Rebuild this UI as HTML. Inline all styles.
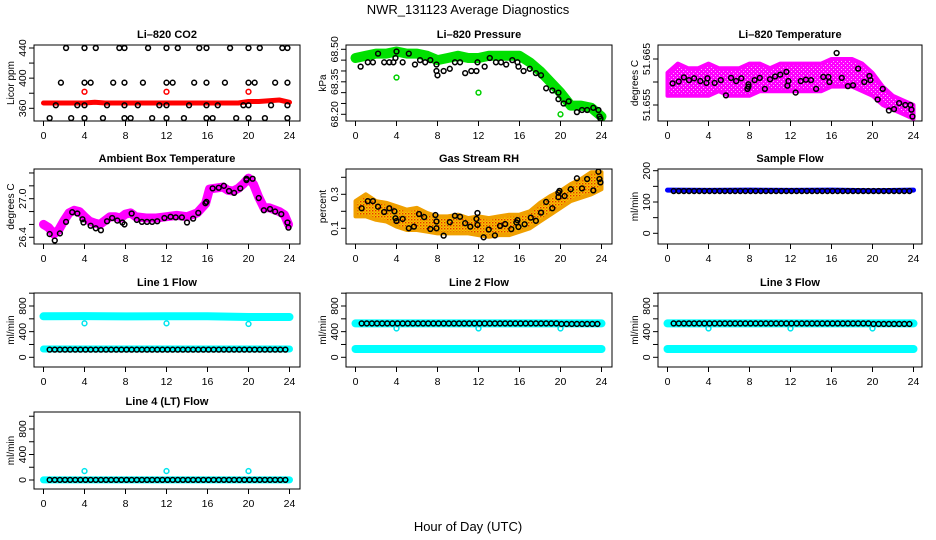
<!DOCTYPE html>
<html><head><meta charset="utf-8"><style>
html,body{margin:0;padding:0;background:#fff;}
svg{display:block;font-family:"Liberation Sans",Arial,sans-serif;}
</style></head><body>
<svg id="chart" width="936" height="540" viewBox="0 0 936 540" xmlns="http://www.w3.org/2000/svg">
<defs>
<pattern id="rhpat" width="3" height="3" patternUnits="userSpaceOnUse">
<rect width="3" height="3" fill="#f7c600"/><rect x="0" y="0" width="1.4" height="1.4" fill="#e83000"/><rect x="1.5" y="1.5" width="1.4" height="1.4" fill="#f09000"/>
</pattern>
<pattern id="magpat" width="4" height="4" patternUnits="userSpaceOnUse">
<rect width="4" height="4" fill="#ff00ff"/><rect x="1" y="1" width="1" height="1" fill="#ffb0ff"/><rect x="3" y="3" width="1" height="1" fill="#ffb0ff"/>
</pattern>
</defs>
<text x="468" y="14" text-anchor="middle" font-size="13">NWR_131123  Average Diagnostics</text>
<text x="468" y="531" text-anchor="middle" font-size="13">Hour of Day (UTC)</text>
</svg>
<script>
// ---------- data ----------
const REG = [0.6,1.1,1.6,2.1,2.6,3.1,3.6,4.1,4.6,5.1,5.6,6.1,6.6,7.1,7.6,8.1,8.6,9.1,9.6,10.1,10.6,11.1,11.6,12.1,12.6,13.1,13.6,14.1,14.6,15.1,15.6,16.1,16.6,17.1,17.6,18.1,18.6,19.1,19.6,20.1,20.6,21.1,21.6,22.1,22.6,23.1,23.6];
const HOURS = [0,1,2,3,4,5,6,7,8,9,10,11,12,13,14,15,16,17,18,19,20,21,22,23,24];
const OUT_X = [4,12,20];

// CO2
const CO2_HI_X = [2.2,4,5.1,7.4,7.9,10.2,12,13.1,15.2,15.9,18.2,20,21.1,23.3,23.8];
const CO2_HI = [440,440,440,440,440,440,440,440,440,440,440,440,440,440,440];
const CO2_M2_X = [1.7,4,4.6,6.8,7.9,9.7,12,12.6,14.7,15.9,17.7,20,20.6,22.6,23.8];
const CO2_M2 = [394,394,394,394,394,394,394,394,394,394,394,394,394,394,394];
const CO2_M1_X = [1.2,3.3,4,6.2,7.9,9.2,11.3,12,14.2,15.9,17,19.5,20,22.2,23.8];
const CO2_M1 = [364,364,364,364,364,364,364,364,364,364,364,364,364,364,364];
const CO2_LO_X = [0.6,2.7,4,5.8,7.9,8.5,10.6,12,13.7,15.9,16.5,18.8,20,21.6,23.8];
const CO2_LO = [347,347,347,347,347,347,347,347,347,347,347,347,347,347,347];
const CO2_RED = [367,367,367,367,367,368,367,367,367,367,367,367,367,367,367,367,367,367,367,367,369,369,370,371,368];
const CO2_RED_OUT = [382,382,382];

// Pressure
const P_GREEN = [68.46,68.47,68.48,68.48,68.49,68.48,68.48,68.47,68.45,68.46,68.47,68.46,68.46,68.47,68.47,68.47,68.47,68.44,68.40,68.35,68.30,68.24,68.24,68.23,68.19];
const P_GREEN_OUT = [68.37,68.30,68.20];
const P_BLK_X = [0.5,1.2,1.7,2.2,2.8,3.3,3.7,3.9,4.0,4.6,5.2,5.8,6.3,6.8,7.3,7.9,7.9,8.0,8.6,9.2,9.7,10.2,10.7,11.3,11.8,11.9,12.6,13.1,13.7,14.2,14.7,15.3,15.8,15.9,16.4,17,17.6,18.1,18.6,19.2,19.8,19.8,20.3,20.8,21.6,22.1,22.6,23.2,23.7,23.8,23.9];
const P_BLK = [68.42,68.44,68.44,68.48,68.44,68.44,68.44,68.46,68.49,68.44,68.48,68.43,68.45,68.44,68.45,68.43,68.40,68.38,68.40,68.41,68.44,68.44,68.39,68.40,68.40,68.44,68.42,68.46,68.44,68.44,68.43,68.45,68.44,68.42,68.40,68.41,68.39,68.38,68.32,68.31,68.30,68.27,68.25,68.26,68.21,68.22,68.22,68.23,68.22,68.19,68.18];

// Li-820 temperature
const T_UP = [51.662,51.664,51.663,51.663,51.664,51.663,51.663,51.663,51.664,51.664,51.663,51.664,51.664,51.664,51.664,51.664,51.665,51.665,51.665,51.664,51.662,51.659,51.657,51.656,51.655];
const T_LO = [51.657,51.657,51.657,51.657,51.657,51.658,51.657,51.657,51.657,51.658,51.658,51.658,51.658,51.658,51.658,51.658,51.659,51.659,51.659,51.658,51.657,51.655,51.654,51.653,51.652];
const T_BLK_X = [0.5,1.1,1.6,2.1,2.6,3.2,3.8,3.9,4.6,5.2,5.7,6.2,6.7,7.2,7.8,7.9,7.9,8.5,9,9.5,10,10.5,11,11.6,11.7,11.8,12.5,13,13.5,14,14.5,15.2,15.7,15.8,16.5,17,17.6,18.1,18.6,19.2,19.7,19.8,20.5,21,21.6,22.1,22.6,23.2,23.7,23.8,23.9];
const T_BLK = [51.6597,51.6601,51.6610,51.6604,51.6608,51.6602,51.6598,51.6608,51.6598,51.6604,51.6571,51.6609,51.6602,51.6608,51.6585,51.6590,51.6595,51.6604,51.6609,51.6585,51.6606,51.6612,51.6616,51.6622,51.6592,51.6602,51.6577,51.6602,51.6605,51.6604,51.6585,51.6611,51.6611,51.6600,51.6663,51.6609,51.6591,51.6593,51.6629,51.6600,51.6613,51.6604,51.6562,51.6585,51.6538,51.6541,51.6554,51.6550,51.6550,51.6540,51.6525];

// Ambient box temperature
const A_X = [0,0.5,1,1.5,2,2.5,3,3.5,4,4.5,5,5.5,6,6.5,7,7.5,8,8.5,9,10,11,12,13,14,15,15.8,16.2,17,17.5,18,18.5,19,19.5,20,20.5,21,21.5,22,23,23.5,23.9];
const A_MAG = [26.60,26.55,26.45,26.52,26.66,26.78,26.82,26.80,26.72,26.65,26.62,26.60,26.66,26.72,26.72,26.70,26.76,26.78,26.72,26.70,26.70,26.72,26.74,26.72,26.78,26.92,27.15,27.17,27.18,27.13,27.12,27.16,27.23,27.32,27.22,27.02,26.86,26.86,26.80,26.75,26.60];
const A_BLK_X = [0.6,1.1,1.6,2.2,2.8,3.3,3.8,3.9,4.6,5.1,5.6,6.2,6.7,7.2,7.7,7.9,8.6,9.1,9.6,10.1,10.6,11.1,11.8,12.4,12.9,13.5,14,14.6,15.1,15.8,15.9,16.5,17.1,17.6,18.1,18.6,19.2,19.8,19.8,20.4,21,21.5,22.1,22.6,23.2,23.8,23.9];
const A_BLK = [26.45,26.35,26.46,26.64,26.79,26.77,26.68,26.63,26.58,26.54,26.51,26.65,26.70,26.66,26.63,26.60,26.77,26.67,26.64,26.64,26.64,26.65,26.70,26.72,26.71,26.71,26.63,26.69,26.78,26.93,26.95,27.16,27.17,27.20,27.12,27.09,27.16,27.29,27.31,27.31,27.01,26.82,26.84,26.80,26.76,26.63,26.55];

// Gas stream RH
const RH_UP = [0.26,0.30,0.26,0.25,0.23,0.21,0.22,0.19,0.17,0.17,0.18,0.16,0.17,0.16,0.17,0.18,0.18,0.20,0.25,0.29,0.32,0.36,0.39,0.43,0.43];
const RH_LO = [0.17,0.17,0.15,0.14,0.11,0.09,0.09,0.08,0.07,0.07,0.07,0.07,0.06,0.05,0.06,0.06,0.08,0.10,0.14,0.18,0.22,0.26,0.28,0.30,0.33];
const RH_BLK_X = [0.6,1.2,1.7,2.2,2.8,3.3,3.8,3.9,4.0,4.6,5.2,5.7,6.2,6.7,7.3,7.8,7.9,7.9,8.6,9.2,9.7,10.2,10.7,11.2,11.8,11.9,11.9,12.5,13,13.6,14.1,14.6,15.2,15.7,15.8,15.9,16.5,17.1,17.6,18.1,18.6,19.2,19.8,19.8,19.9,20.4,21,21.6,22.1,22.6,23.2,23.7,23.8,23.9];
const RH_BLK = [0.218,0.26,0.26,0.227,0.196,0.218,0.20,0.159,0.143,0.155,0.10,0.11,0.184,0.166,0.096,0.178,0.14,0.10,0.057,0.136,0.174,0.168,0.13,0.11,0.155,0.19,0.12,0.047,0.093,0.058,0.114,0.125,0.095,0.134,0.148,0.108,0.124,0.163,0.144,0.192,0.255,0.218,0.283,0.31,0.32,0.29,0.33,0.394,0.335,0.39,0.323,0.433,0.39,0.37];

// Sample flow
const SF_X = [0,4,8,12,16,20,24];
const SF_BLUE = [138,137,138,137,138,136,138];
const SF_BLK = [135,135,135,135,135,135,135,135,135,135,135,135,135,135,135,135,135,135,135,135,135,135,135,135,135,135,135,135,135,135,135,135,135,135,135,135,135,135,135,135,135,135,135,135,135,135,135];

// Line flows
const FL_X = [0,4,8,12,16,20,24];
const L1_HI = [640,642,638,640,640,628,628];
const L1_LO = [130,130,130,130,130,130,130];
const L1_BLK = [120,120,120,120,120,120,120,120,120,120,120,120,120,120,120,120,120,120,120,120,120,120,120,120,120,120,120,120,120,120,120,120,120,120,120,120,120,120,120,120,120,120,120,120,120,120,120];
const L1_OUT = [530,530,520];
const L2_HI = [528,528,528,528,528,528,528];
const L2_LO = [130,130,130,130,130,130,130];
const L2_BLK = [528,528,528,528,528,528,528,528,528,528,528,528,528,528,528,528,528,528,528,528,528,528,528,528,528,528,528,528,528,528,528,528,528,528,528,528,528,528,528,520,520,520,520,520,520,520,520];
const L2_OUT = [450,450,450];
const L3_HI = [528,528,528,528,528,528,528];
const L3_LO = [130,130,130,130,130,130,130];
const L3_BLK = [528,528,528,528,528,528,528,528,528,528,528,528,528,528,528,528,528,528,528,528,528,528,528,528,528,528,528,528,528,528,528,528,528,528,528,528,528,528,528,520,520,520,520,520,520,520,520];
const L3_OUT = [450,450,450];
const L4_LO = [2,2,2,2,2,2,2];
const L4_BLK = [2,2,2,2,2,2,2,2,2,2,2,2,2,2,2,2,2,2,2,2,2,2,2,2,2,2,2,2,2,2,2,2,2,2,2,2,2,2,2,2,2,2,2,2,2,2,2];
const L4_OUT = [140,140,140];

const X_TICKS = [0,4,8,12,16,20,24];

// ---------- drawing ----------
const NS = 'http://www.w3.org/2000/svg';
const svg = document.getElementById('chart');
function mk(tag, attrs, parent) {
  const e = document.createElementNS(NS, tag);
  for (const k in attrs) e.setAttribute(k, attrs[k]);
  (parent || svg).appendChild(e);
  return e;
}
const COLS = [34, 346, 658];
const ROWS = [[45,121],[169,244],[293,367],[412,489]];
let clipId = 0;

function panel(col, row, title, ylab, ref, ticks, labels, name) {
  const L = COLS[col], T = ROWS[row][0], B = ROWS[row][1], W = col === 2 ? 264 : 266;
  const g = mk('g', {});
  
  
  const xs = h => L + 9.5 + h * 10.25;
  const k = (ref[3] - ref[1]) / (ref[2] - ref[0]);
  const ys = v => ref[1] + (v - ref[0]) * k;
  const id = 'clip' + (clipId++);
  const cp = mk('clipPath', {id: id}, g);
  mk('rect', {x: L, y: T, width: W, height: B - T}, cp);
  const marks = mk('g', {'clip-path': 'url(#' + id + ')'}, g);
  
  
  const box = mk('rect', {x: L, y: T, width: W, height: B - T, fill: 'none', stroke: '#000', 'stroke-width': 1}, g);
  
  
  const tt = mk('text', {x: L + W / 2, y: T - 7, 'text-anchor': 'middle', 'font-size': 11, 'font-weight': 'bold'}, g);
  tt.textContent = title;
  
  
  const yl = mk('text', {x: 0, y: 0, 'text-anchor': 'middle', 'font-size': 10, transform: 'translate(' + (L - 20) + ',' + ((T + B) / 2) + ') rotate(-90)'}, g);
  yl.textContent = ylab;
  
  
  ticks.forEach(v => {
    const y = ys(v);
    const t = mk('line', {x1: L - 5, x2: L, y1: y, y2: y, stroke: '#000'}, g);
    
    
  });
  labels.forEach(v => {
    const y = ys(v);
    const t = mk('text', {x: 0, y: 0, 'text-anchor': 'middle', 'font-size': 10.5, transform: 'translate(' + (L - 8) + ',' + y + ') rotate(-90)'}, g);
    t.textContent = String(v);
    
    
  });
  X_TICKS.forEach(h => {
    const x = xs(h);
    const t = mk('line', {x1: x, x2: x, y1: B, y2: B + 5, stroke: '#000'}, g);
    
    
    const lb = mk('text', {x: x, y: B + 18, 'text-anchor': 'middle', 'font-size': 10.5}, g);
    lb.textContent = String(h);
    
    
  });
  return {marks, xs, ys};
}

function pts(p, xArr, vArr, color, name, r) {
  xArr.forEach((h, i) => {
    const c = mk('circle', {cx: p.xs(h), cy: p.ys(vArr[i]), r: r || 2.4, fill: 'none', stroke: color, 'stroke-width': 1.5}, p.marks);
    
    
  });
}
function band(p, xArr, vArr, color, width, name) {
  const d = xArr.map((h, i) => (i ? 'L' : 'M') + p.xs(h).toFixed(1) + ',' + p.ys(vArr[i]).toFixed(1)).join(' ');
  const e = mk('path', {d: d, fill: 'none', stroke: color, 'stroke-width': width, 'stroke-linejoin': 'round', 'stroke-linecap': 'round'}, p.marks);
  
  
}
function area(p, xArr, up, lo, fill, edge, name) {
  let d = xArr.map((h, i) => (i ? 'L' : 'M') + p.xs(h).toFixed(1) + ',' + p.ys(up[i]).toFixed(1)).join(' ');
  for (let i = xArr.length - 1; i >= 0; i--) d += ' L' + p.xs(xArr[i]).toFixed(1) + ',' + p.ys(lo[i]).toFixed(1);
  const e = mk('path', {d: d + ' Z', fill: fill, stroke: edge, 'stroke-width': 4, 'stroke-linejoin': 'round'}, p.marks);
  
  
}

// Panel 1: CO2
const p1 = panel(0, 0, 'Li\u2013820 CO2', 'Licor ppm', [440,48,360,108.3], [360,380,400,420,440], [360,400,440], 'co2-panel');
band(p1, HOURS, CO2_RED, '#ff0000', 5, 'co2-red-series');
pts(p1, OUT_X, CO2_RED_OUT, '#ff0000', 'co2-red-outlier');
pts(p1, CO2_HI_X, CO2_HI, '#000', 'co2-black-point');
pts(p1, CO2_M2_X, CO2_M2, '#000', 'co2-black-point');
pts(p1, CO2_M1_X, CO2_M1, '#000', 'co2-black-point');
pts(p1, CO2_LO_X, CO2_LO, '#000', 'co2-black-point');

// Panel 2: pressure
const p2 = panel(1, 0, 'Li\u2013820 Pressure', 'kPa', [68.5,49.3,68.2,114.3], [68.20,68.25,68.30,68.35,68.40,68.45,68.50], ['68.20','68.35','68.50'], 'pressure-panel');
band(p2, HOURS, P_GREEN, '#00e000', 10, 'pressure-green-series');
pts(p2, OUT_X, P_GREEN_OUT, '#00d000', 'pressure-green-outlier');
pts(p2, P_BLK_X, P_BLK, '#000', 'pressure-black-point');

// Panel 3: Li-820 temperature
const p3 = panel(2, 0, 'Li\u2013820 Temperature', 'degrees C', [51.665,59,51.655,105], [51.655,51.660,51.665], ['51.655','51.665'], 'li820-temp-panel');
area(p3, HOURS, T_UP, T_LO, 'url(#magpat)', '#ff00ff', 'li820-temp-magenta-series');
pts(p3, T_BLK_X, T_BLK, '#000', 'li820-temp-black-point');

// Panel 4: ambient
const p4 = panel(0, 1, 'Ambient Box Temperature', 'degrees C', [27.0,198.7,26.4,237.3], [26.4,26.6,26.8,27.0,27.2,27.4], ['26.4','27.0'], 'ambient-temp-panel');
band(p4, A_X, A_MAG, '#ff00ff', 9, 'ambient-magenta-series');
pts(p4, A_BLK_X, A_BLK, '#000', 'ambient-black-point');

// Panel 5: RH
const p5 = panel(1, 1, 'Gas Stream RH', 'percent', [0.3,194.3,0.1,228.3], [0.1,0.2,0.3,0.4], ['0.1','0.3'], 'rh-panel');
area(p5, HOURS, RH_UP, RH_LO, 'url(#rhpat)', '#f0a000', 'rh-orange-series');
pts(p5, RH_BLK_X, RH_BLK, '#000', 'rh-black-point');

// Panel 6: sample flow
const p6 = panel(2, 1, 'Sample Flow', 'ml/min', [200,170.7,0,233.3], [0,50,100,150,200], [0,100,200], 'sample-flow-panel');
band(p6, SF_X, SF_BLUE, '#0000ff', 5, 'sample-flow-blue-series');
pts(p6, REG, SF_BLK, '#000', 'sample-flow-black-point');

// Row 3 flows
const FT = [0,200,400,600,800,1000], FLB = [0,400,800];
const p7 = panel(0, 2, 'Line 1 Flow', 'ml/min', [800,306,0,357.3], FT, FLB, 'line1-flow-panel');
band(p7, FL_X, L1_HI, '#00ffff', 8, 'line1-cyan-high');
band(p7, FL_X, L1_LO, '#00ffff', 7, 'line1-cyan-low');
pts(p7, OUT_X, L1_OUT, '#00e5ee', 'line1-cyan-outlier');
pts(p7, REG, L1_BLK, '#000', 'line1-black-point');

const p8 = panel(1, 2, 'Line 2 Flow', 'ml/min', [800,306,0,357.3], FT, FLB, 'line2-flow-panel');
band(p8, FL_X, L2_HI, '#00ffff', 8, 'line2-cyan-high');
band(p8, FL_X, L2_LO, '#00ffff', 8, 'line2-cyan-low');
pts(p8, OUT_X, L2_OUT, '#00e5ee', 'line2-cyan-outlier');
pts(p8, REG, L2_BLK, '#000', 'line2-black-point');

const p9 = panel(2, 2, 'Line 3 Flow', 'ml/min', [800,306,0,357.3], FT, FLB, 'line3-flow-panel');
band(p9, FL_X, L3_HI, '#00ffff', 8, 'line3-cyan-high');
band(p9, FL_X, L3_LO, '#00ffff', 8, 'line3-cyan-low');
pts(p9, OUT_X, L3_OUT, '#00e5ee', 'line3-cyan-outlier');
pts(p9, REG, L3_BLK, '#000', 'line3-black-point');

const p10 = panel(0, 3, 'Line 4 (LT) Flow', 'ml/min', [800,429,0,480], FT, FLB, 'line4-flow-panel');
band(p10, FL_X, L4_LO, '#00ffff', 7, 'line4-cyan-series');
pts(p10, OUT_X, L4_OUT, '#00e5ee', 'line4-cyan-outlier');
pts(p10, REG, L4_BLK, '#000', 'line4-black-point');
</script>
</body></html>
